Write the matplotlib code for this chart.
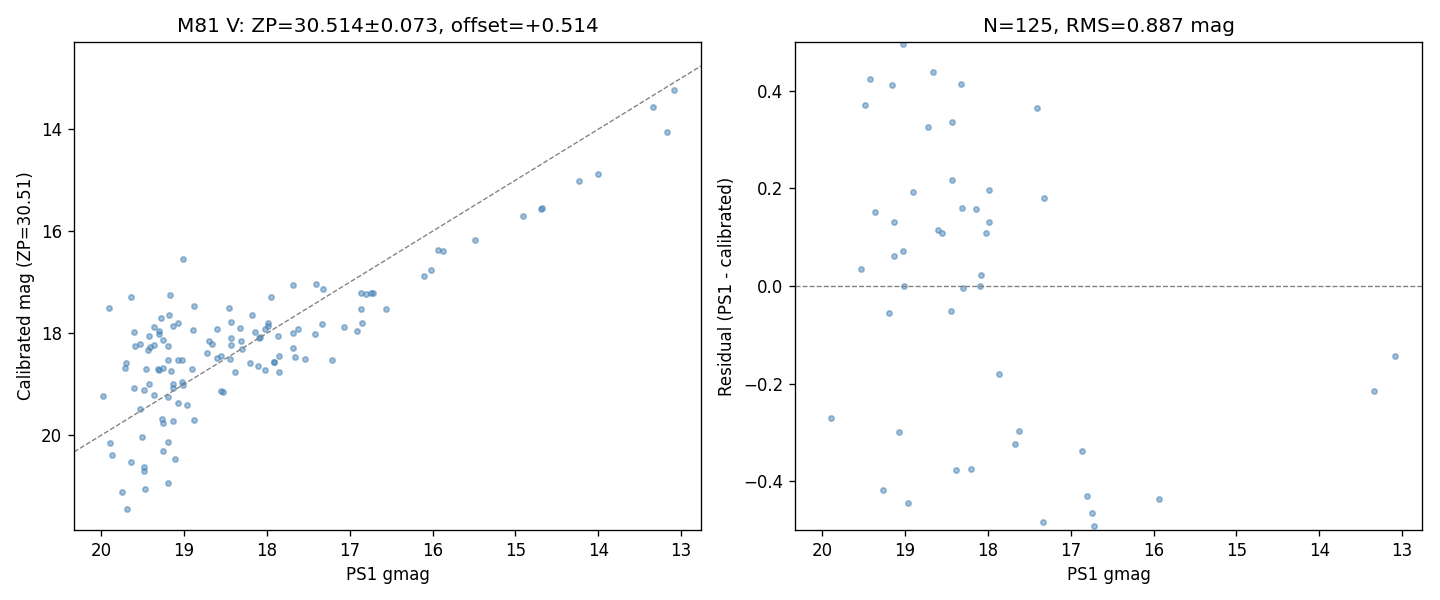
import numpy as np
import matplotlib
matplotlib.use("Agg")
import matplotlib.pyplot as plt

# PS1 g magnitude and calibrated magnitude (ZP=30.51)
gmag = [
    19.02, 19.91, 19.64, 19.17, 18.88, 18.46, 17.95, 18.18, 18.43, 18.60,
    18.70, 18.11, 18.02, 17.92, 18.89, 19.18, 19.14, 19.08, 19.28, 19.36,
    19.30, 19.30, 19.60, 19.42, 19.25, 19.53, 19.59, 19.41, 19.36, 19.44,
    19.19, 19.19, 19.08, 19.70, 19.72, 19.46, 19.31, 19.30, 19.26, 19.61,
    18.55, 18.53, 19.98, 19.25, 19.14, 18.88, 19.51, 19.87, 19.19, 19.25,
    19.11, 19.64, 19.48, 19.48, 19.19, 19.47, 19.75, 19.69, 17.69, 16.86,
    16.56, 17.07, 16.85, 16.91, 17.42, 17.69, 17.66, 17.54, 17.22, 17.86,
    17.91, 17.85, 13.17, 14.00, 14.23, 14.68, 14.69, 14.91, 15.49, 15.87,
    16.11, 16.02,
    19.03, 19.42, 19.16, 18.66, 18.32, 19.48, 17.41, 18.72, 18.44, 18.44,
    18.90, 17.99, 17.32, 19.36, 18.31, 18.14, 19.13, 17.99, 18.60, 18.55,
    18.02, 19.03, 19.13, 19.53, 18.09, 19.01, 18.30, 18.10, 19.20, 18.45,
    17.87, 19.89, 19.07, 17.63, 17.68, 16.87, 18.39, 18.21, 19.27, 18.96,
    16.81, 16.75, 17.33, 16.72, 15.93, 13.34, 13.09,
]
calmag = [
    16.55, 17.50, 17.30, 17.26, 17.46, 17.50, 17.30, 17.65, 17.79, 17.91,
    18.16, 18.65, 18.73, 18.57, 17.93, 17.65, 17.85, 17.81, 17.71, 17.87,
    17.95, 18.01, 17.97, 18.06, 18.14, 18.22, 18.26, 18.28, 18.24, 18.34,
    18.26, 18.52, 18.52, 18.59, 18.69, 18.71, 18.71, 18.73, 18.69, 19.07,
    19.13, 19.16, 19.24, 19.77, 19.73, 19.71, 20.03, 20.38, 20.14, 20.32,
    20.46, 20.52, 20.63, 20.71, 20.93, 21.05, 21.12, 21.44, 17.05, 17.52,
    17.52, 17.87, 17.81, 17.95, 18.01, 18.30, 18.46, 18.50, 18.52, 18.44,
    18.57, 18.77, 14.05, 14.87, 15.01, 15.55, 15.56, 15.71, 16.18, 16.38,
    16.87, 16.77,
    18.534, 18.995, 18.748, 18.222, 17.906, 19.109, 17.045, 18.394, 18.104, 18.223,
    18.708, 17.794, 17.140, 19.209, 18.151, 17.983, 18.999, 17.858, 18.486, 18.442,
    17.912, 18.959, 19.069, 19.496, 18.068, 19.009, 18.305, 18.101, 19.256, 18.502,
    18.051, 20.160, 19.370, 17.928, 18.003, 17.209, 18.768, 18.586, 19.689, 19.404,
    17.240, 17.215, 17.813, 17.212, 16.367, 13.555, 13.234,
]

gmag = np.array(gmag)
calmag = np.array(calmag)
resid = gmag - calmag

fig = plt.figure(figsize=(12, 5), dpi=120)
ax1 = fig.add_axes([0.0514, 0.1167, 0.4354, 0.8133])
ax2 = fig.add_axes([0.5521, 0.1167, 0.4354, 0.8133])

xlim = (20.33, 12.76)

# 左: 較正済み等級 vs PS1
ax1.scatter(gmag, calmag, s=10, alpha=0.5, color="steelblue")
ax1.plot(xlim, xlim, "--", color="gray", lw=0.8)
ax1.set_xlim(xlim)
ax1.set_ylim(21.86, 12.29)
ax1.set_yticks([14, 16, 18, 20])
ax1.set_xlabel("PS1 gmag")
ax1.set_ylabel("Calibrated mag (ZP=30.51)")
ax1.set_title("M81 V: ZP=30.514±0.073, offset=+0.514", fontsize=12)

# 右: 残差
ax2.scatter(gmag, resid, s=10, alpha=0.5, color="steelblue")
ax2.axhline(0, ls="--", color="gray", lw=0.8)
ax2.set_xlim(xlim)
ax2.set_ylim(-0.5, 0.5)
ax2.set_yticks([-0.4, -0.2, 0.0, 0.2, 0.4])
ax2.set_xlabel("PS1 gmag")
ax2.set_ylabel("Residual (PS1 - calibrated)")
ax2.set_title("N=125, RMS=0.887 mag", fontsize=12)

fig.savefig("out.png", dpi=120)
